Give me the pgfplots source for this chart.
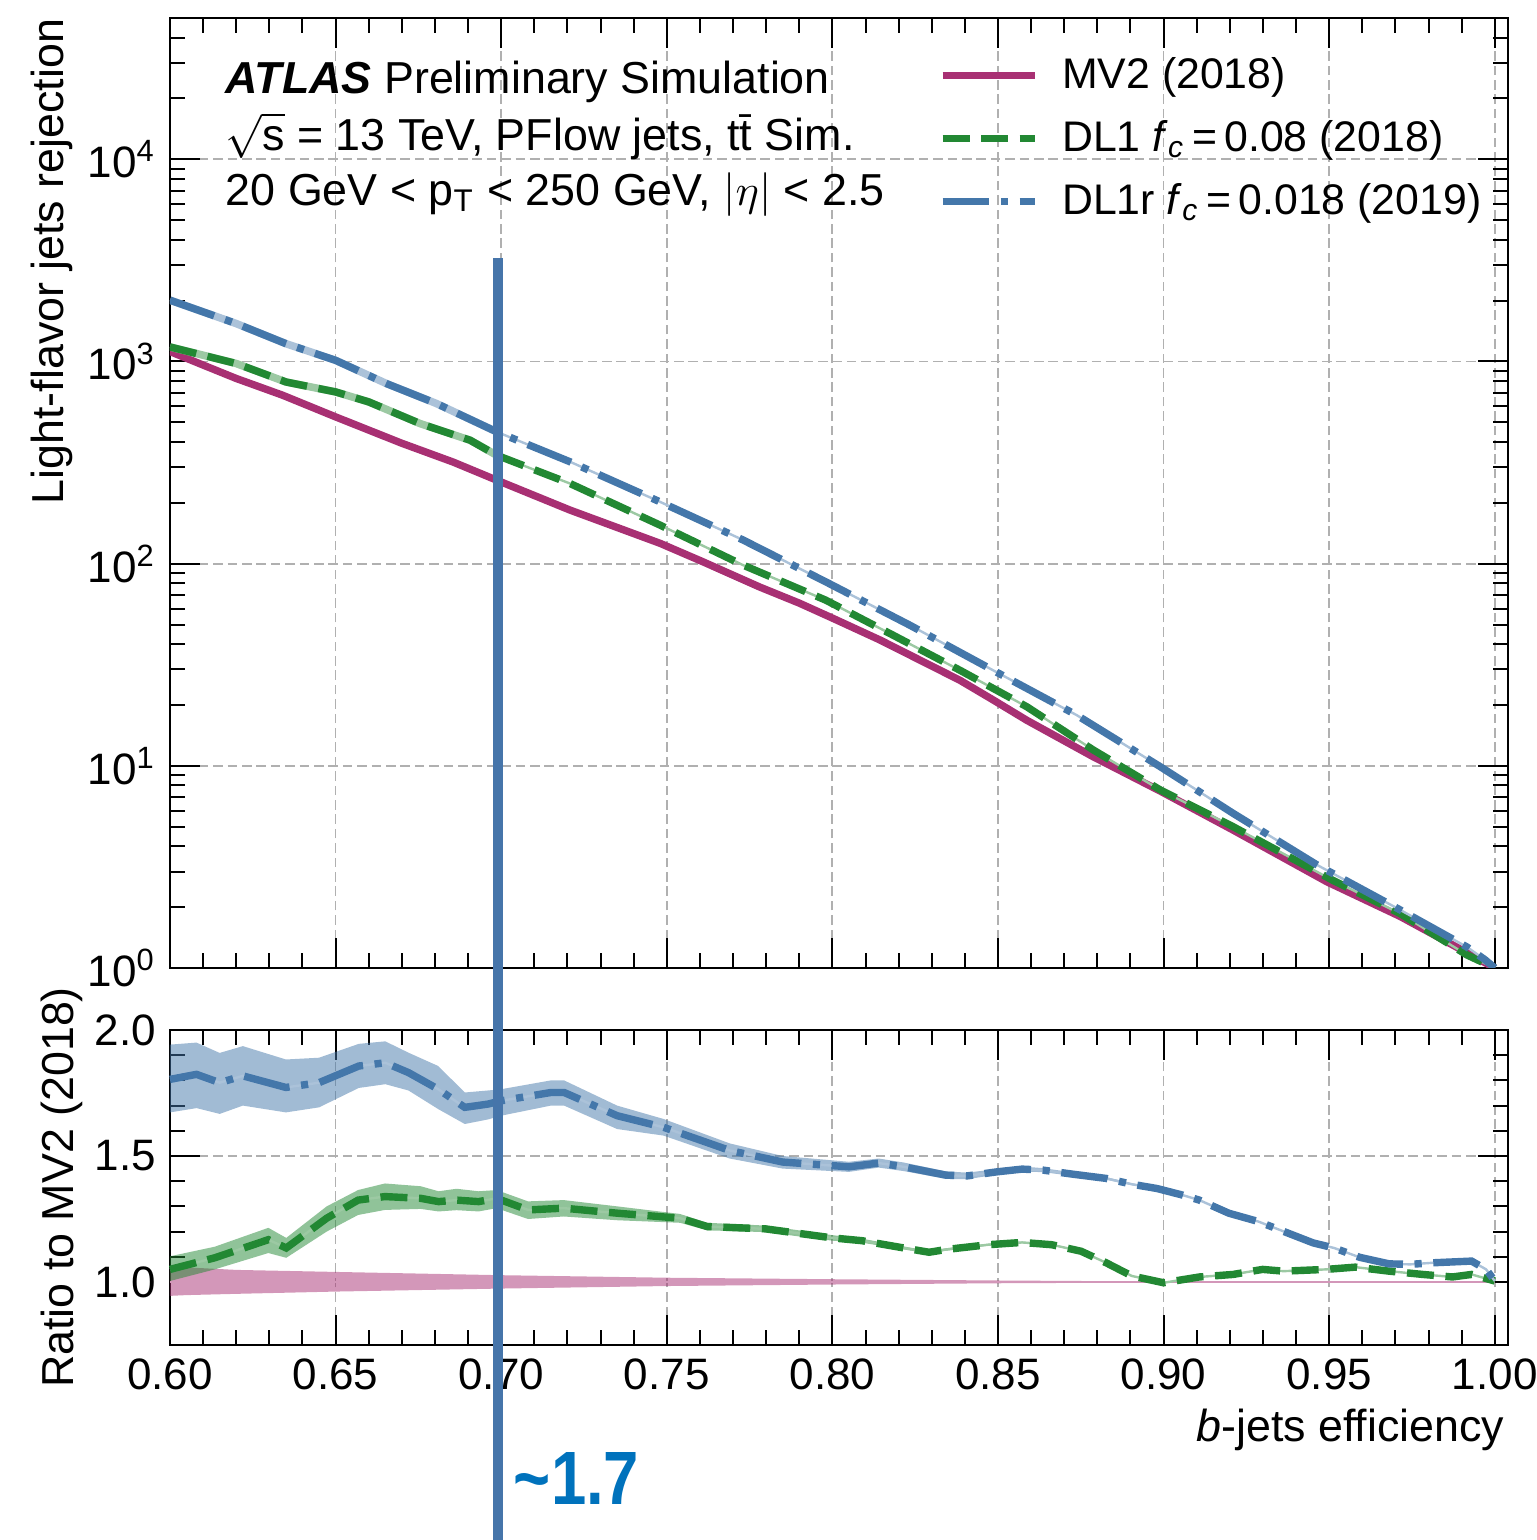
\documentclass[border=0pt]{standalone}
\usepackage{fontspec}
\setmainfont{Liberation Sans}
\usepackage{pgfplots}
\usepackage{pgfplotstable}
\pgfplotsset{compat=1.18}
\usepgfplotslibrary{fillbetween}

\definecolor{mvcol}{RGB}{168,48,115}
\definecolor{dlcol}{RGB}{34,136,51}
\definecolor{dlrcol}{RGB}{68,119,170}
\definecolor{gridcol}{RGB}{176,176,176}
\definecolor{vlinecol}{RGB}{70,117,170}
\definecolor{annocol}{RGB}{0,114,188}

\pgfplotstableread{
x r
0.600 1120
0.610 960
0.620 824
0.634 681
0.650 532
0.670 394
0.6855 318
0.6986 259
0.7208 184
0.748 126
0.761 102
0.778 76.7
0.790 63.8
0.800 53.8
0.8144 41.9
0.8385 26.5
0.8485 21.2
0.8587 16.8
0.8787 11.1
0.899 7.5
0.921 4.81
0.9493 2.67
0.9714 1.80
0.9916 1.19
1.000 1.00
}\mvtop

\pgfplotstableread{
x r
0.600 1180
0.620 977
0.635 792
0.650 707
0.660 631
0.6755 493
0.6906 408
0.6986 344
0.7208 249
0.748 155
0.773 98.4
0.798 66
0.8183 44.3
0.8385 29.7
0.8587 19.6
0.8787 12.0
0.899 7.6
0.921 5.0
0.951 2.72
0.9714 1.86
0.9916 1.16
1.000 1.00
}\dltop

\pgfplotstableread{
x r
0.600 2010
0.620 1540
0.635 1225
0.650 1013
0.6654 777
0.6805 619
0.6986 449
0.7208 319
0.748 202
0.773 131
0.798 81.3
0.8234 49.6
0.8485 29.7
0.8738 17.8
0.899 9.9
0.921 5.82
0.9464 3.23
0.9714 1.94
0.9916 1.27
0.997 1.10
1.000 1.00
}\dlrtop

\pgfplotstableread{
x r lo hi
0.600 1.0 0.945 1.050
0.605 1.0 0.948 1.058
0.620 1.0 0.953 1.048
0.650 1.0 0.962 1.040
0.700 1.0 0.974 1.027
0.750 1.0 0.984 1.017
0.800 1.0 0.990 1.011
0.850 1.0 0.995 1.006
0.900 1.0 0.998 1.002
1.000 1.0 0.999 1.001
}\mvrat

\pgfplotstableread{
x r lo hi
0.600 1.050 1.004 1.102
0.6135 1.096 1.050 1.140
0.6297 1.168 1.115 1.215
0.6351 1.135 1.096 1.175
0.6473 1.253 1.200 1.300
0.6568 1.325 1.266 1.365
0.6649 1.339 1.286 1.391
0.6757 1.332 1.290 1.380
0.6811 1.319 1.280 1.360
0.6865 1.325 1.285 1.370
0.6932 1.319 1.280 1.360
0.6986 1.332 1.293 1.365
0.7081 1.286 1.250 1.320
0.7189 1.293 1.260 1.325
0.7351 1.273 1.245 1.300
0.754 1.253 1.235 1.270
0.7622 1.220 1.205 1.235
0.7797 1.211 1.198 1.224
0.800 1.175 1.164 1.186
0.8089 1.164 1.156 1.172
0.8216 1.135 1.129 1.141
0.8292 1.118 1.113 1.123
0.8343 1.129 1.124 1.134
0.8471 1.148 1.144 1.152
0.8573 1.157 1.154 1.160
0.8662 1.148 1.145 1.151
0.8751 1.122 1.119 1.125
0.8827 1.076 1.074 1.078
0.8904 1.024 1.022 1.026
0.900 0.997 0.995 0.999
0.9108 1.020 1.018 1.022
0.921 1.030 1.028 1.032
0.9299 1.050 1.048 1.052
0.9362 1.043 1.041 1.045
0.949 1.050 1.048 1.052
0.9579 1.059 1.057 1.061
0.9681 1.043 1.041 1.045
0.9783 1.030 1.028 1.032
0.9872 1.020 1.018 1.022
0.993 1.030 1.028 1.032
1.000 1.004 1.002 1.006
}\dlrat

\pgfplotstableread{
x r lo hi
0.600 1.804 1.673 1.942
0.608 1.824 1.690 1.950
0.615 1.791 1.667 1.909
0.622 1.818 1.700 1.936
0.635 1.772 1.673 1.883
0.645 1.791 1.693 1.890
0.657 1.857 1.770 1.945
0.665 1.870 1.785 1.955
0.672 1.831 1.760 1.910
0.681 1.765 1.686 1.857
0.689 1.693 1.627 1.752
0.696 1.706 1.645 1.760
0.700 1.719 1.660 1.765
0.715 1.752 1.700 1.800
0.719 1.752 1.700 1.800
0.735 1.660 1.607 1.700
0.749 1.614 1.581 1.647
0.769 1.522 1.490 1.550
0.785 1.476 1.450 1.500
0.805 1.457 1.437 1.477
0.814 1.472 1.454 1.490
0.8216 1.457 1.440 1.474
0.8343 1.424 1.409 1.439
0.8407 1.421 1.408 1.434
0.8496 1.437 1.426 1.448
0.8573 1.448 1.438 1.458
0.8636 1.444 1.436 1.452
0.8725 1.428 1.421 1.435
0.8827 1.411 1.406 1.416
0.8904 1.388 1.384 1.392
0.898 1.371 1.368 1.374
0.9057 1.345 1.343 1.347
0.9108 1.325 1.323 1.327
0.9197 1.273 1.271 1.275
0.9286 1.240 1.238 1.242
0.9362 1.201 1.199 1.203
0.9452 1.155 1.153 1.157
0.9515 1.135 1.133 1.137
0.9592 1.098 1.096 1.100
0.9681 1.072 1.070 1.074
0.9745 1.070 1.068 1.072
0.9809 1.076 1.074 1.078
0.993 1.083 1.081 1.085
0.9974 1.050 1.048 1.052
1.000 1.004 1.002 1.006
}\dlrrat

\pgfplotsset{
  every axis/.append style={font=\fontsize{11.2}{13.4}\selectfont},
  myaxis/.style={
    scale only axis, width=334.5pt,
    xmin=0.6, xmax=1.004,
    tick align=inside, tick pos=both,
    major tick length=7.5pt, minor tick length=3.75pt,
    every tick/.style={black, line width=0.5pt},
    axis line style={line width=0.65pt},
    tick label style={font=\fontsize{11}{13}\selectfont},
    grid=major,
    major grid style={gridcol, line width=0.45pt, dash pattern=on 2.4pt off 1.2pt},
    xtick={0.6,0.65,0.7,0.75,0.8,0.85,0.9,0.95,1.0},
    minor x tick num=4,
    /pgf/number format/assume math mode=true,
    legend image code/.code={\draw[#1] (0pt,0pt) -- (23pt,0pt);},
  }
}

\begin{document}
\begin{tikzpicture}
\begin{axis}[myaxis,
  name=top, at={(0,0)}, anchor=south west, height=237.5pt,
  ymode=log, ymin=1, ymax=50000,
  xticklabels={},
  ytick={1,10,100,1000,10000},
  yticklabels={10\textsuperscript{0},10\textsuperscript{1},10\textsuperscript{2},10\textsuperscript{3},10\textsuperscript{4}},
  minor ytick={2,3,4,5,6,7,8,9,20,30,40,50,60,70,80,90,200,300,400,500,600,700,800,900,2000,3000,4000,5000,6000,7000,8000,9000,20000,30000,40000},
  ylabel={Light-flavor jets rejection},
  ylabel style={at={(rel axis cs:-0.0882,1)}, anchor=east, inner sep=0pt},
  legend cell align=left,
  legend style={draw=none, fill=none, at={(rel axis cs:0.574,0.968)}, anchor=north west,
    row sep=2.5pt, inner sep=0pt, font=\fontsize{10.7}{12.8}\selectfont,
    /tikz/every odd column/.append style={column sep=4pt}},
]
\addplot[mvcol, line width=1.85pt, line join=round] table[x=x,y=r]{\mvtop};
\addlegendentry{MV2 (2018)}
\addplot[forget plot, dlcol!45!white, line width=0.6pt] table[x=x,y=r]{\dltop};
\addplot[forget plot, dlcol!45!white, line width=1.9pt, restrict x to domain=0.6:0.72] table[x=x,y=r]{\dltop};
\addplot[dlcol, line width=1.85pt, dash pattern=on 6.75pt off 2.9pt] table[x=x,y=r]{\dltop};
\addlegendentry{DL1 \textit{f}\textsubscript{\textit{c}}\,=\,0.08 (2018)}
\addplot[forget plot, dlrcol!45!white, line width=0.6pt] table[x=x,y=r]{\dlrtop};
\addplot[forget plot, dlrcol!45!white, line width=1.9pt, restrict x to domain=0.6:0.72] table[x=x,y=r]{\dlrtop};
\addplot[dlrcol, line width=1.85pt, dash pattern=on 11.7pt off 2.9pt on 1.8pt off 2.9pt] table[x=x,y=r]{\dlrtop};
\addlegendentry{DL1r \textit{f}\textsubscript{\textit{c}}\,=\,0.018 (2019)}

\node[anchor=base west, inner sep=0pt] at (rel axis cs:0.0411,0.920) {\textbf{\textit{ATLAS}} Preliminary Simulation};
\node[anchor=base west, inner sep=0pt] at (rel axis cs:0.0411,0.861) {$\sqrt{\mbox{s}}$ = 13 TeV, PFlow jets, t\={t} Sim.};
\node[anchor=base west, inner sep=0pt] at (rel axis cs:0.0411,0.803) {20 GeV < p\textsubscript{T} < 250 GeV, $|\eta|$ < 2.5};
\coordinate (vtop) at (axis cs:0.699,3240);
\end{axis}

\begin{axis}[myaxis,
  name=bot, at={(0,-15.5pt)}, anchor=north west, height=78.75pt,
  ymin=0.75, ymax=2.0,
  xticklabels={0.60,0.65,0.70,0.75,0.80,0.85,0.90,0.95,1.00},
  ytick={1,1.5,2}, yticklabels={1.0,1.5,2.0},
  minor y tick num=4,
  ylabel={Ratio to MV2 (2018)},
  ylabel style={at={(rel axis cs:-0.0807,0.5)}, anchor=center},
  xlabel={\textit{b}-jets efficiency},
  xlabel style={at={(rel axis cs:0.9978,-0.307)}, anchor=base east, inner sep=0pt},
  clip=false,
]
\addplot[name path=mvhi, draw=none, forget plot] table[x=x,y=hi]{\mvrat};
\addplot[name path=mvlo, draw=none, forget plot] table[x=x,y=lo]{\mvrat};
\addplot[mvcol, fill opacity=0.5, draw=none, forget plot] fill between[of=mvhi and mvlo];
\addplot[mvcol!50!white, line width=0.5pt, forget plot] table[x=x,y=r]{\mvrat};

\addplot[name path=dlhi, draw=none, forget plot] table[x=x,y=hi]{\dlrat};
\addplot[name path=dllo, draw=none, forget plot] table[x=x,y=lo]{\dlrat};
\addplot[dlcol, fill opacity=0.5, draw=none, forget plot] fill between[of=dlhi and dllo];
\addplot[dlcol!45!white, line width=0.6pt, forget plot] table[x=x,y=r]{\dlrat};
\addplot[dlcol, line width=1.85pt, dash pattern=on 6.75pt off 2.9pt, forget plot] table[x=x,y=r]{\dlrat};

\addplot[name path=dlrhi, draw=none, forget plot] table[x=x,y=hi]{\dlrrat};
\addplot[name path=dlrlo, draw=none, forget plot] table[x=x,y=lo]{\dlrrat};
\addplot[dlrcol, fill opacity=0.5, draw=none, forget plot] fill between[of=dlrhi and dlrlo];
\addplot[dlrcol!45!white, line width=0.6pt, forget plot] table[x=x,y=r]{\dlrrat};
\addplot[dlrcol, line width=1.85pt, dash pattern=on 11.7pt off 2.9pt on 1.8pt off 2.9pt, forget plot] table[x=x,y=r]{\dlrrat};

\coordinate (vbot) at (axis cs:0.699,-0.2);
\coordinate (annot) at (axis cs:0.7036,0.222);
\end{axis}

\draw[vlinecol, line width=2.5pt] (vtop) -- (vbot);
\node[anchor=west, inner sep=0pt, text=annocol] at (annot)
  {\scalebox{0.84}[1]{\fontsize{18.9}{20}\selectfont\bfseries\textasciitilde 1.7}};

\pgfresetboundingbox
\path[use as bounding box] (-42.5pt,-143pt) rectangle (341.5pt,242pt);
\end{tikzpicture}
\end{document}
